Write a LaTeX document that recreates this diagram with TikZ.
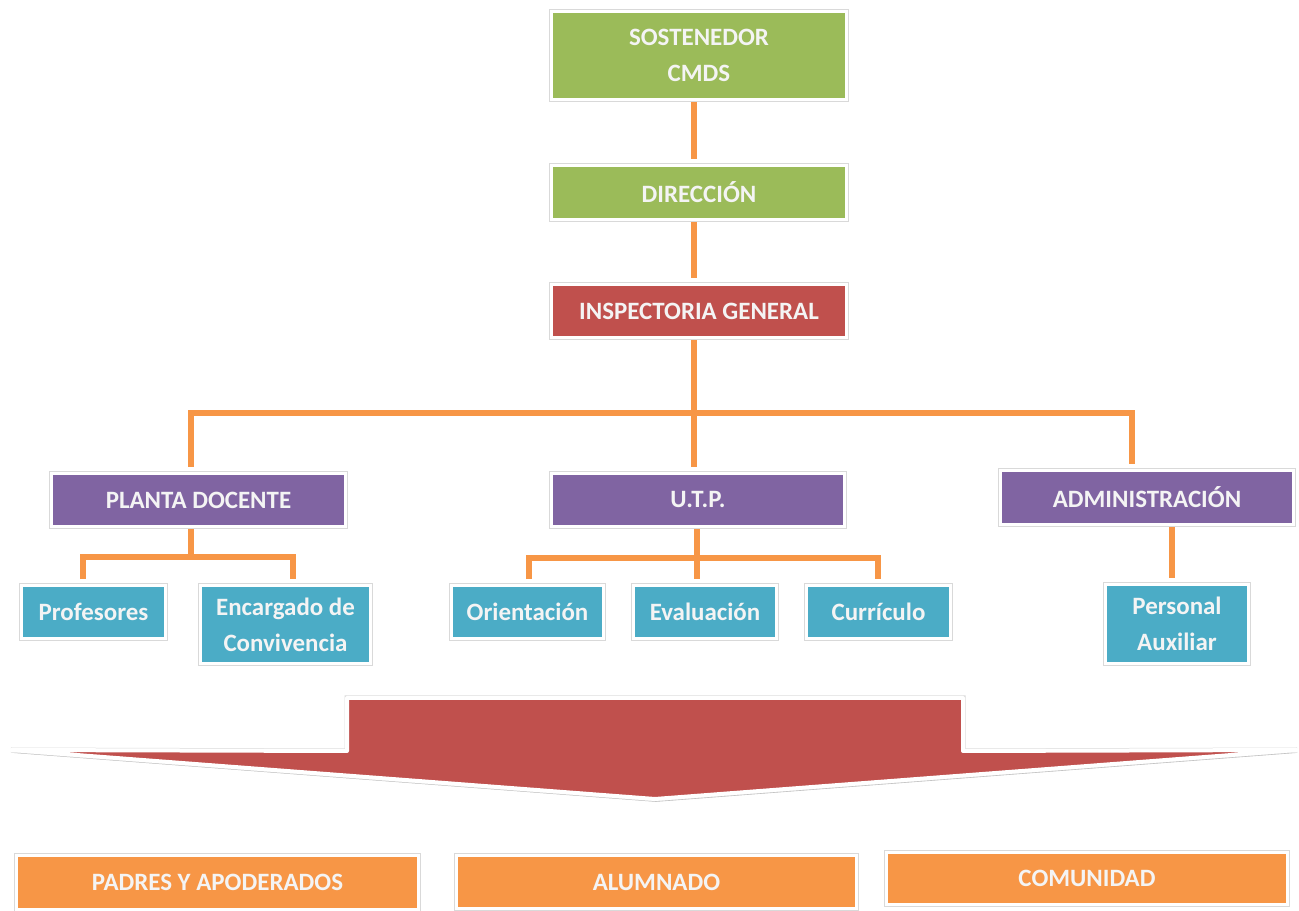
\documentclass[tikz,border=0pt]{standalone}
\usepackage{fontspec}
\setmainfont{Carlito}
\usetikzlibrary{shadows,backgrounds}
\definecolor{cgreen}{HTML}{9BBB59}
\definecolor{cred}{HTML}{C0504D}
\definecolor{cpurple}{HTML}{8064A2}
\definecolor{cteal}{HTML}{4BACC6}
\definecolor{corange}{HTML}{F79646}
\definecolor{ctext}{HTML}{F4F4F4}
\begin{document}
\begin{tikzpicture}[x=0.02cm,y=-0.02cm,
  shad/.style={drop shadow={shadow xshift=0.5pt, shadow yshift=-1.6pt, opacity=0.28, fill=black},
    preaction={draw=black!15, line width=0.1cm}},
  box/.style={draw=white, line width=0.06cm, text=ctext, shad,
    font=\bfseries\fontsize{14.2}{20.4}\selectfont, align=center, inner sep=0pt},
  conn/.style={draw=corange, line width=0.12cm, line join=miter},
  gapend/.style={shorten >=0.1cm},
  gapboth/.style={shorten >=0.1cm, shorten <=0.1cm}]
\useasboundingbox (0,0) rectangle (1299,911);

% levels
\node[box, fill=cgreen, minimum width=5.90cm, minimum height=1.76cm] (sost) at (699,55.5) {SOSTENEDOR\\CMDS};
\node[box, fill=cgreen, minimum width=5.90cm, minimum height=1.08cm] (dir) at (699,192.5) {DIRECCIÓN};
\node[box, fill=cred, minimum width=5.90cm, minimum height=1.06cm] (insp) at (699,311) {INSPECTORIA GENERAL};

\node[box, fill=cpurple, minimum width=5.88cm, minimum height=1.06cm] (planta) at (198.5,500) {PLANTA DOCENTE};
\node[box, fill=cpurple, minimum width=5.86cm, minimum height=1.06cm] (utp) at (698,500) {U.T.P.};
\node[box, fill=cpurple, minimum width=5.86cm, minimum height=1.08cm] (admin) at (1147,497.5) {ADMINISTRACIÓN};

\node[box, fill=cteal, minimum width=2.88cm, minimum height=1.06cm] (prof) at (93.5,612) {Profesores};
\node[box, fill=cteal, minimum width=3.40cm, minimum height=1.56cm] (enc) at (285.5,624.5) {Encargado de\\Convivencia};
\node[box, fill=cteal, minimum width=3.04cm, minimum height=1.06cm] (orient) at (527.5,612) {Orientación};
\node[box, fill=cteal, minimum width=2.86cm, minimum height=1.06cm] (eval) at (705,612) {Evaluación};
\node[box, fill=cteal, minimum width=2.88cm, minimum height=1.06cm] (curr) at (878.5,612) {Currículo};
\node[box, fill=cteal, minimum width=2.86cm, minimum height=1.58cm] (pers) at (1177,624) {Personal\\Auxiliar};

\node[box, fill=corange, minimum width=8.04cm, minimum height=1.08cm] (padres) at (217.5,882.5) {PADRES Y APODERADOS};
\node[box, fill=corange, minimum width=8.00cm, minimum height=1.06cm] (alum) at (656.5,882) {ALUMNADO};
\node[box, fill=corange, minimum width=8.02cm, minimum height=1.04cm] (comun) at (1087,878.5) {COMUNIDAD};

% connector guides
\coordinate (cx) at (694,0);
\coordinate (bus) at (0,413);
\coordinate (pdx) at (191,0);
\coordinate (adx) at (1132,0);
\coordinate (ux) at (697,0);
\coordinate (pb) at (0,557);
\coordinate (p1x) at (83,0);
\coordinate (p2x) at (293,0);
\coordinate (ub) at (0,558);
\coordinate (o1x) at (529,0);
\coordinate (o3x) at (878,0);
\coordinate (ax) at (1172,0);

\begin{scope}[on background layer]
\draw[conn, gapend] (sost.south -| cx) -- (dir.north -| cx);
\draw[conn, gapend] (dir.south -| cx) -- (insp.north -| cx);
\draw[conn, gapend] (insp.south -| cx) -- (utp.north -| cx);
\draw[conn, gapboth] (planta.north -| pdx) -- (pdx |- bus) -- (adx |- bus) -- (admin.north -| adx);

\draw[conn] (planta.south -| pdx) -- (pdx |- pb);
\draw[conn, gapboth] (prof.north -| p1x) -- (p1x |- pb) -- (p2x |- pb) -- (enc.north -| p2x);

\draw[conn, gapend] (utp.south -| ux) -- (eval.north -| ux);
\draw[conn, gapboth] (orient.north -| o1x) -- (o1x |- ub) -- (o3x |- ub) -- (curr.north -| o3x);

\draw[conn, gapend] (admin.south -| ax) -- (pers.north -| ax);
\end{scope}

% big arrow
\path[fill=cred, draw=white, line width=0.08cm, line join=round, shad]
  (347,698) -- (963,698) -- (963,751) -- (1297,750) -- (655,799) -- (11,750) -- (347,751) -- cycle;
\end{tikzpicture}
\end{document}
